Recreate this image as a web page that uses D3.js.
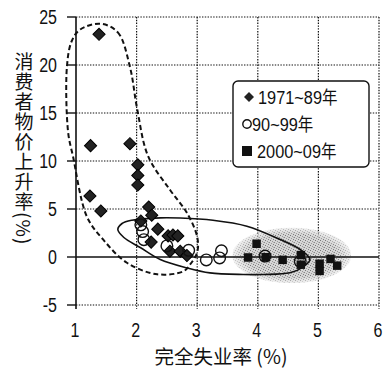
<!DOCTYPE html>
<html>
<head>
<meta charset="utf-8">
<script src="https://cdn.jsdelivr.net/npm/d3@7"></script>
<style>
  body { margin: 0; background: #fff; }
  svg { display: block; }
  .num { font-family: "Liberation Sans", Arial, sans-serif; }
  .cjk { font-family: "Noto Sans CJK SC", "Noto Sans CJK JP", sans-serif; }
</style>
</head>
<body>
<div id="chart"></div>
<script>
// donnees
var seriesNames = ["1971~89年", "90~99年", "2000~09年"];
var xTicks = [1, 2, 3, 4, 5, 6];
var yTicks = [-5, 0, 5, 10, 15, 20, 25];

var unemp7189 = [1.38, 1.24, 1.89, 2.02, 2.02, 2.02, 1.23, 1.41, 2.2, 2.25, 2.07, 2.35, 2.24, 2.52, 2.6, 2.68, 2.55, 2.72, 2.83];
var cpi7189   = [23.2, 11.6, 11.8, 9.6, 8.5, 7.5, 6.35, 4.8, 5.2, 4.35, 3.75, 2.9, 1.55, 2.2, 2.3, 2.2, 0.6, 0.6, 0.15];

var unemp9099 = [2.07, 2.1, 2.12, 2.5, 2.86, 3.15, 3.37, 3.4, 4.12, 4.7];
var cpi9099   = [3.35, 2.65, 1.8, 1.15, 0.7, -0.3, -0.1, 0.65, 0.1, -0.45];

var unemp0009 = [3.98, 3.84, 4.13, 4.41, 4.71, 4.71, 5.02, 5.02, 5.2, 5.31];
var cpi0009   = [1.38, -0.05, -0.02, -0.3, 0.2, -0.8, -0.7, -1.45, -0.2, -0.9];

// contours (en unites des axes)
var loopX = [1.40, 1.69, 1.89, 2.01, 2.19, 2.55, 2.83, 3.0, 3.0, 2.88, 2.77, 2.34, 1.84, 1.45, 1.18, 0.95, 0.87, 0.85, 0.93, 1.07];
var loopY = [24.3, 23.4, 19.8, 15.4, 10.5, 7.0, 4.6, 2.1, 0.5, -0.8, -1.5, -1.8, -0.6, 1.8, 4.2, 10.5, 13.0, 19.8, 22.5, 23.7];

var ovalX = [1.92, 2.39, 2.72, 3.26, 3.82, 4.37, 4.70, 4.86, 4.75, 4.53, 4.09, 3.76, 3.21, 2.83, 2.39, 2.06, 1.79, 1.69, 1.76];
var ovalY = [3.83, 4.08, 4.06, 3.83, 3.21, 1.82, 0.78, -0.26, -1.02, -1.65, -1.82, -1.82, -1.65, -1.13, -0.26, 0.99, 2.03, 2.86, 3.49];

var cloudCenter = [4.56, 0.16], cloudRadius = [0.98, 2.9];

var width = 390, height = 370;
var margin = {left: 76, right: 11, top: 17, bottom: 65};
var squeeze = 0.8; // chiffres etroits

var x = d3.scaleLinear().domain([1, 6]).range([margin.left, width - margin.right]);
var y = d3.scaleLinear().domain([-5, 25]).range([height - margin.bottom, margin.top]);

function main () {
  const svg = d3.create("svg")
    .attr("width", width)
    .attr("height", height);

  const defs = svg.append("defs");
  const pat = defs.append("pattern")
    .attr("id", "stipple")
    .attr("patternUnits", "userSpaceOnUse")
    .attr("width", 5).attr("height", 5);
  pat.append("rect").attr("width", 5).attr("height", 5).attr("fill", "#d6d6d6");
  [[0,0,"#777"],[2,1,"#999"],[4,2,"#888"],[1,3,"#9a9a9a"],[3,4,"#808080"],[3,2,"#b5b5b5"]].forEach(p => {
    pat.append("rect").attr("x", p[0]).attr("y", p[1]).attr("width", 1).attr("height", 1).attr("fill", p[2]);
  });

  const grad = defs.append("radialGradient").attr("id", "fade");
  grad.append("stop").attr("offset", "78%").attr("stop-color", "#fff");
  grad.append("stop").attr("offset", "100%").attr("stop-color", "#fff").attr("stop-opacity", 0.35);
  defs.append("mask").attr("id", "cloudmask")
    .attr("maskContentUnits", "objectBoundingBox")
    .append("rect").attr("width", 1).attr("height", 1).attr("fill", "url(#fade)");

  // grille pointillee
  const grid = svg.append("g")
    .attr("stroke", "#111")
    .attr("stroke-width", 1.2)
    .attr("stroke-dasharray", "1.4,1.4");

  grid.selectAll("line.v")
    .data(xTicks.slice(1))
    .join("line")
      .attr("x1", d => x(d)).attr("x2", d => x(d))
      .attr("y1", y(25)).attr("y2", y(-5) + 4);

  grid.selectAll("line.h")
    .data(yTicks.filter(d => d !== 0))
    .join("line")
      .attr("x1", x(1)).attr("x2", x(6))
      .attr("y1", d => y(d)).attr("y2", d => y(d));

  // nuage gris 2000-09
  svg.append("ellipse")
    .attr("cx", x(cloudCenter[0]))
    .attr("cy", y(cloudCenter[1]))
    .attr("rx", x(cloudCenter[0] + cloudRadius[0]) - x(cloudCenter[0]))
    .attr("ry", y(cloudCenter[1] - cloudRadius[1]) - y(cloudCenter[1]))
    .attr("fill", "url(#stipple)")
    .attr("mask", "url(#cloudmask)");

  // axes pleins
  svg.append("line")
    .attr("x1", x(1)).attr("x2", x(6))
    .attr("y1", y(0)).attr("y2", y(0))
    .attr("stroke", "#111").attr("stroke-width", 1.4);

  svg.append("line")
    .attr("x1", x(1)).attr("x2", x(1))
    .attr("y1", y(25)).attr("y2", y(-5) + 4)
    .attr("stroke", "#111").attr("stroke-width", 1.6);

  svg.append("g")
    .attr("stroke", "#111").attr("stroke-width", 1.4)
    .selectAll("line")
    .data(yTicks)
    .join("line")
      .attr("x1", x(1) - 9).attr("x2", x(1))
      .attr("y1", d => y(d)).attr("y2", d => y(d));

  svg.append("g")
    .attr("class", "num")
    .attr("font-size", 20)
    .attr("fill", "#111")
    .attr("text-anchor", "end")
    .selectAll("text")
    .data(yTicks)
    .join("text")
      .attr("transform", d => `translate(${x(1) - 19},${y(d) + 7}) scale(${squeeze},1)`)
      .text(d => d);

  svg.append("g")
    .attr("class", "num")
    .attr("font-size", 20)
    .attr("fill", "#111")
    .attr("text-anchor", "middle")
    .selectAll("text")
    .data(xTicks)
    .join("text")
      .attr("transform", d => `translate(${x(d) - 1},${y(-5) + 32}) scale(${squeeze},1)`)
      .text(d => d);

  // titres
  svg.append("text")
    .attr("class", "cjk")
    .attr("font-size", 19.5)
    .attr("fill", "#111")
    .attr("text-anchor", "middle")
    .attr("x", 221)
    .attr("y", 364)
    .text("完全失业率 (%)");

  svg.append("text")
    .attr("class", "cjk")
    .attr("font-size", 19)
    .attr("fill", "#111")
    .attr("letter-spacing", 1)
    .style("writing-mode", "vertical-rl")
    .attr("x", 24)
    .attr("y", 52)
    .text("消费者物价上升率(%)");

  // contours
  const closed = d3.line()
    .x(d => x(d[0]))
    .y(d => y(d[1]))
    .curve(d3.curveCatmullRomClosed.alpha(0.5));

  svg.append("path")
    .attr("d", closed(d3.zip(loopX, loopY)))
    .attr("fill", "none")
    .attr("stroke", "#111")
    .attr("stroke-width", 2)
    .attr("stroke-dasharray", "5,3");

  svg.append("path")
    .attr("d", closed(d3.zip(ovalX, ovalY)))
    .attr("fill", "none")
    .attr("stroke", "#111")
    .attr("stroke-width", 1.6);

  // points
  const diamond = d3.symbol().type(d3.symbolSquare).size(74)();
  const square = d3.symbol().type(d3.symbolSquare).size(72)();

  svg.append("g")
    .selectAll("path")
    .data(d3.zip(unemp7189, cpi7189))
    .join("path")
      .attr("d", diamond)
      .attr("transform", d => `translate(${x(d[0])},${y(d[1])}) rotate(45)`)
      .attr("fill", "#222")
      .attr("stroke", "#000")
      .attr("stroke-width", 1);

  svg.append("g")
    .selectAll("circle")
    .data(d3.zip(unemp9099, cpi9099))
    .join("circle")
      .attr("cx", d => x(d[0]))
      .attr("cy", d => y(d[1]))
      .attr("r", 5.8)
      .attr("fill", "none")
      .attr("stroke", "#111")
      .attr("stroke-width", 1.4);

  svg.append("g")
    .selectAll("path")
    .data(d3.zip(unemp0009, cpi0009))
    .join("path")
      .attr("d", square)
      .attr("transform", d => `translate(${x(d[0])},${y(d[1])})`)
      .attr("fill", "#111");

  // legende
  const leg = svg.append("g").attr("transform", "translate(233,81)");
  leg.append("rect")
    .attr("width", 136).attr("height", 86)
    .attr("rx", 5)
    .attr("fill", "#fff")
    .attr("stroke", "#111")
    .attr("stroke-width", 1.4);

  const rows = leg.selectAll("g")
    .data(seriesNames)
    .join("g")
      .attr("transform", (d, i) => `translate(0,${16 + i * 27})`);

  rows.filter((d, i) => i === 0).append("path")
    .attr("d", d3.symbol().type(d3.symbolSquare).size(50)())
    .attr("transform", "translate(16,0) rotate(45)")
    .attr("fill", "#222");
  rows.filter((d, i) => i === 1).append("circle")
    .attr("cx", 14).attr("r", 4.2)
    .attr("fill", "none").attr("stroke", "#111").attr("stroke-width", 1.4);
  rows.filter((d, i) => i === 2).append("path")
    .attr("d", d3.symbol().type(d3.symbolSquare).size(100)())
    .attr("transform", "translate(14,0)")
    .attr("fill", "#111");

  rows.append("text")
    .attr("class", "num")
    .attr("font-size", 19)
    .attr("fill", "#111")
    .attr("transform", (d, i) => `translate(${[25, 19, 24][i]},7) scale(0.86,1)`)
    .each(function (d) {
      const t = d3.select(this);
      t.append("tspan").text(d.slice(0, -1));
      t.append("tspan").attr("class", "cjk").attr("font-size", 18).text(d.slice(-1));
    });

  return svg.node();
}

window.onload = function () {
  document.getElementById("chart").appendChild(main());
}
</script>
</body>
</html>
